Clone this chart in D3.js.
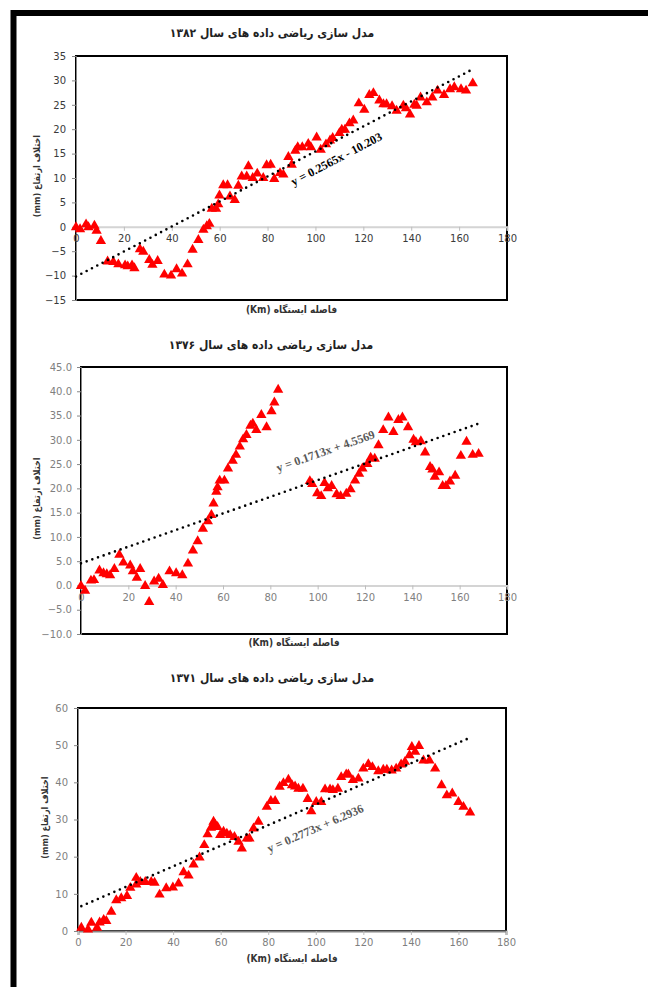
<!DOCTYPE html>
<html>
<head>
<meta charset="utf-8">
<script src="https://cdn.jsdelivr.net/npm/d3@7"></script>
<style>
  html, body { margin: 0; padding: 0; background: #fff; }
  svg { display: block; }
  .rtl { direction: rtl; unicode-bidi: embed; }
</style>
</head>
<body>
<div id="chart"></div>
<script>
// ---- data ----
const xTicks = [0, 20, 40, 60, 80, 100, 120, 140, 160, 180];

const km1382 = [0, 1.7, 4.2, 5.2, 7.7, 8.6, 10.4, 13.2, 15.6, 17.7, 20.5, 21.6, 23.4, 24.4, 26.7, 28.1, 30.6, 31.9, 34.1, 36.9,
  39.7, 42.0, 44.3, 46.6, 48.7, 51.1, 53.2, 54.6, 55.7, 56.7, 58.5, 59.4, 59.9, 61.5, 63.3, 64.3, 66.3, 67.8, 69.2, 71.3,
  72.0, 73.8, 75.7, 78.2, 79.6, 81.3, 82.8, 85.2, 86.6, 88.7, 90.1, 91.6, 92.6, 94.5, 97.0, 98.1, 100.5, 102.2, 104.4, 106.1,
  107.2, 110.0, 111.0, 112.3, 114.2, 115.8, 118.1, 120.4, 122.5, 124.2, 126.7, 128.4, 129.7, 132.0, 133.9, 136.7, 137.8, 139.5, 141.3, 142.3,
  143.9, 146.5, 148.8, 151.0, 153.7, 156.2, 158.0, 160.8, 162.9, 165.7];
const mm1382 = [-0.1, -0.5, 0.5, -0.1, 0.2, -0.8, -2.9, -7.1, -7.2, -7.7, -7.9, -8.1, -7.9, -8.5, -4.6, -5.1, -6.8, -7.8, -7.0, -9.8,
  -10.0, -8.7, -9.6, -7.7, -4.7, -2.7, -0.6, 0.1, 0.6, 3.7, 3.7, 4.6, 6.4, 8.5, 8.5, 6.2, 5.5, 8.4, 10.3, 10.3,
  12.4, 10.0, 10.9, 10.0, 12.6, 12.7, 9.8, 11.0, 10.7, 14.3, 12.7, 15.6, 16.3, 16.3, 17.0, 16.3, 18.3, 15.8, 16.9, 17.7,
  18.2, 19.2, 19.9, 19.9, 21.2, 21.8, 25.3, 24.0, 27.0, 27.4, 25.9, 25.1, 25.1, 24.7, 23.8, 24.8, 24.3, 23.0, 25.0, 24.8,
  26.5, 25.5, 26.5, 27.9, 27.0, 28.2, 28.6, 28.2, 27.9, 29.4];
const yTicks1382 = [-15, -10, -5, 0, 5, 10, 15, 20, 25, 30, 35];
const trend1382 = { slope: 0.2565, intercept: -10.203, label: 'y = 0.2565x - 10.203' };

const km1376 = [0, 1.7, 4.2, 5.5, 7.8, 9.5, 10.9, 12.3, 14.1, 16.2, 17.9, 20.8, 21.9, 23.6, 25.0, 27.1, 28.8, 30.9, 32.8, 34.6,
  37.4, 40.2, 42.8, 45.2, 47.3, 49.3, 51.5, 53.6, 55.1, 56.0, 57.2, 57.7, 58.6, 60.6, 62.1, 64.1, 65.5, 67.1, 68.5, 69.9,
  71.6, 72.6, 74.1, 76.2, 78.4, 80.5, 81.7, 83.3, 96.7, 97.7, 99.8, 101.5, 102.9, 104.3, 105.9, 108.0, 109.7, 112.1, 113.9, 115.8,
  117.5, 118.9, 121.0, 122.4, 124.1, 125.7, 127.7, 129.9, 132.0, 134.1, 135.8, 138.2, 140.5, 141.5, 143.6, 145.4, 147.5, 148.5, 149.5, 151.3,
  152.8, 154.2, 155.9, 158.1, 160.5, 162.9, 165.5, 168.0];
const mm1376 = [-0.1, -1.1, 1.0, 1.1, 3.1, 2.5, 2.3, 2.1, 3.4, 6.3, 4.7, 4.1, 2.9, 1.6, 3.4, -0.1, -3.4, 0.8, 1.4, 0.1,
  2.9, 2.5, 2.1, 4.5, 7.2, 9.1, 11.7, 13.2, 14.5, 16.9, 19.3, 20.2, 21.6, 21.6, 24.1, 25.7, 26.9, 28.6, 30.1, 31.0,
  32.9, 33.3, 32.0, 35.1, 32.6, 35.9, 37.7, 40.3, 21.5, 20.9, 19.0, 18.4, 21.1, 20.0, 20.5, 18.8, 18.4, 18.9, 19.8, 21.6,
  23.0, 24.1, 25.0, 26.3, 26.1, 28.9, 32.0, 34.6, 31.6, 34.1, 34.6, 32.6, 30.0, 29.5, 29.7, 27.4, 24.4, 23.9, 22.4, 23.3,
  20.5, 20.5, 21.4, 22.6, 26.7, 29.6, 26.9, 27.1];
const yTicks1376 = [-10, -5, 0, 5, 10, 15, 20, 25, 30, 35, 40, 45];
const trend1376 = { slope: 0.1713, intercept: 4.5569, label: 'y = 0.1713x + 4.5569' };

const km1371 = [1.4, 4.2, 5.6, 8.0, 9.1, 10.8, 11.9, 14.0, 16.1, 18.2, 20.6, 22.0, 24.5, 24.5, 26.2, 28.3, 30.8, 32.2, 34.3, 37.1,
  39.9, 42.3, 44.4, 46.5, 48.6, 51.1, 53.1, 54.5, 55.9, 57.0, 57.7, 58.7, 59.8, 61.2, 62.6, 64.0, 65.8, 67.5, 68.9, 71.0,
  72.1, 73.8, 75.9, 79.4, 81.1, 82.9, 84.8, 86.4, 88.5, 90.0, 91.3, 92.7, 94.6, 96.6, 98.1, 100.2, 102.3, 103.9, 106.0, 107.2,
  109.3, 110.7, 112.8, 113.7, 115.6, 117.9, 120.0, 122.1, 123.8, 126.3, 128.4, 129.9, 131.9, 133.8, 135.9, 137.5, 139.4, 140.4, 141.8, 143.4,
  145.3, 147.8, 150.2, 152.9, 155.1, 157.4, 160.0, 162.1, 164.9];
const mm1371 = [0.9, 0.4, 2.2, 0.9, 2.3, 3.0, 2.7, 5.2, 8.3, 8.8, 9.4, 11.6, 14.3, 12.5, 13.2, 13.2, 13.2, 13.0, 9.8, 11.5,
  11.7, 12.8, 15.8, 14.9, 17.9, 19.8, 23.1, 26.0, 27.8, 29.4, 28.6, 28.0, 25.8, 26.7, 26.2, 25.8, 25.3, 24.0, 22.2, 24.9,
  24.9, 27.6, 29.4, 33.4, 35.0, 35.0, 38.8, 39.8, 40.7, 39.2, 38.9, 38.3, 38.3, 35.5, 32.2, 34.7, 34.7, 38.1, 38.1, 37.9,
  38.3, 41.4, 42.1, 42.1, 40.6, 41.0, 43.7, 44.9, 44.1, 43.0, 43.4, 43.4, 43.2, 43.7, 44.8, 45.5, 47.3, 49.5, 48.2, 49.8,
  45.9, 45.9, 43.7, 39.2, 36.5, 37.0, 34.7, 33.4, 31.9];
const yTicks1371 = [0, 10, 20, 30, 40, 50, 60];
const trend1371 = { slope: 0.2773, intercept: 6.2936, label: 'y = 0.2773x + 6.2936' };

const xTitle = 'فاصله ایستگاه (Km)';
const yTitle = 'اختلاف ارتفاع (mm)';

// ---- drawing ----
const W = 648, H = 987;
const svg = d3.select('#chart').append('svg')
  .attr('width', W)
  .attr('height', H);

svg.append('rect').attr('width', W).attr('height', H).attr('fill', '#fff');

// outer black frame (top + left)
svg.append('path')
  .attr('d', `M13.5,${H} L13.5,13 L${W},13`)
  .attr('fill', 'none')
  .attr('stroke', '#000')
  .attr('stroke-width', 6);

const panels = [
  {
    title: 'مدل سازی ریاضی داده های سال ۱۳۸۲', km: km1382, mm: mm1382, yTicks: yTicks1382, trend: trend1382,
    box: { left: 76, right: 507, top: 56, bottom: 300 }, fmt: d3.format('d'),
    titleY: 33, titleX: 272, xTitleY: 310, yTitleX: 37, tickColor: '#3a3a3a', eqColor: '#000',
    eqAt: 109, eqDy: 20, yLabelEnd: 66
  },
  {
    title: 'مدل سازی ریاضی داده های سال ۱۳۷۶', km: km1376, mm: mm1376, yTicks: yTicks1376, trend: trend1376,
    box: { left: 81, right: 507, top: 367, bottom: 634 }, fmt: d3.format('.1f'),
    titleY: 345, titleX: 271, xTitleY: 643, yTitleX: 37, tickColor: '#7f7f7f', eqColor: '#595959',
    eqAt: 103.5, eqDy: -25, yLabelEnd: 72
  },
  {
    title: 'مدل سازی ریاضی داده های سال ۱۳۷۱', km: km1371, mm: mm1371, yTicks: yTicks1371, trend: trend1371,
    box: { left: 78, right: 506, top: 708, bottom: 931 }, fmt: d3.format('d'),
    titleY: 678, titleX: 272, xTitleY: 959, yTitleX: 45, tickColor: '#7f7f7f', eqColor: '#595959',
    eqAt: 100, eqDy: 25, yLabelEnd: 68
  }
];

panels.forEach(p => {
  const b = p.box;
  const x = d3.scaleLinear().domain([0, 180]).range([b.left, b.right]);
  const y = d3.scaleLinear().domain(d3.extent(p.yTicks)).range([b.bottom, b.top]);
  const g = svg.append('g');

  // chart title
  g.append('text')
    .attr('class', 'rtl')
    .attr('x', p.titleX)
    .attr('y', p.titleY)
    .attr('text-anchor', 'middle')
    .attr('dominant-baseline', 'middle')
    .attr('font-family', 'DejaVu Sans Condensed, DejaVu Sans')
    .attr('font-weight', 'bold')
    .attr('font-size', '12px')
    .attr('fill', '#222')
    .text(p.title);

  // plot frame
  g.append('rect')
    .attr('x', b.left)
    .attr('y', b.top)
    .attr('width', b.right - b.left)
    .attr('height', b.bottom - b.top)
    .attr('fill', '#fff')
    .attr('stroke', '#000')
    .attr('stroke-width', 2);

  // y axis
  const yAxis = g.append('g')
    .attr('transform', `translate(${b.left},0)`)
    .call(d3.axisLeft(y).tickValues(p.yTicks).tickFormat(p.fmt).tickSize(4).tickPadding(b.left - p.yLabelEnd - 4));
  yAxis.select('.domain').attr('stroke', '#868686');
  yAxis.selectAll('.tick line').attr('stroke', '#868686');
  yAxis.selectAll('.tick text')
    .attr('font-family', 'DejaVu Sans')
    .attr('font-size', '10px')
    .attr('fill', p.tickColor);

  // x axis at zero
  const xAxis = g.append('g')
    .attr('transform', `translate(0,${y(0)})`)
    .call(d3.axisBottom(x).tickValues(xTicks).tickSize(4).tickPadding(4));
  xAxis.select('.domain').attr('stroke', y(0) === b.bottom ? '#868686' : '#d4d4d4').attr('stroke-width', 2);
  xAxis.selectAll('.tick line').attr('stroke', '#bdbdbd');
  xAxis.selectAll('.tick text')
    .attr('font-family', 'DejaVu Sans')
    .attr('font-size', '10px')
    .attr('fill', p.tickColor);

  // axis titles
  g.append('text')
    .attr('class', 'rtl')
    .attr('x', (b.left + b.right) / 2)
    .attr('y', p.xTitleY)
    .attr('text-anchor', 'middle')
    .attr('dominant-baseline', 'middle')
    .attr('font-family', 'DejaVu Sans Condensed, DejaVu Sans')
    .attr('font-weight', 'bold')
    .attr('font-size', '10px')
    .attr('fill', '#333')
    .text(xTitle);

  g.append('text')
    .attr('class', 'rtl')
    .attr('transform', `translate(${p.yTitleX},${(b.top + b.bottom) / 2 - 2}) rotate(-90)`)
    .attr('text-anchor', 'middle')
    .attr('dominant-baseline', 'middle')
    .attr('font-family', 'DejaVu Sans Condensed, DejaVu Sans')
    .attr('font-weight', 'bold')
    .attr('font-size', '9px')
    .attr('fill', '#333')
    .text(yTitle);

  // markers
  const pts = p.km.map((k, i) => ({ km: k, mm: p.mm[i] }));
  g.selectAll('.pt')
    .data(pts)
    .enter()
    .append('path')
    .attr('class', 'pt')
    .attr('d', d3.symbol().type(d3.symbolTriangle).size(46))
    .attr('transform', d => `translate(${x(d.km)},${y(d.mm)})`)
    .attr('fill', '#ff0000');

  // linear trendline (dotted)
  const t = p.trend;
  const ext = d3.extent(p.km);
  const line = d3.line().x(d => x(d)).y(d => y(t.slope * d + t.intercept));
  g.append('path')
    .attr('d', line(ext))
    .attr('fill', 'none')
    .attr('stroke', '#000')
    .attr('stroke-width', 2.6)
    .attr('stroke-linecap', 'round')
    .attr('stroke-dasharray', '0,6');

  // equation label
  const ang = Math.atan2(y(t.slope * ext[1] + t.intercept) - y(t.slope * ext[0] + t.intercept), x(ext[1]) - x(ext[0])) * 180 / Math.PI;
  g.append('text')
    .attr('transform', `translate(${x(p.eqAt)},${y(t.slope * p.eqAt + t.intercept) + p.eqDy}) rotate(${ang})`)
    .attr('text-anchor', 'middle')
    .attr('dominant-baseline', 'middle')
    .attr('font-family', 'Liberation Serif')
    .attr('font-weight', 'bold')
    .attr('font-size', '12px')
    .attr('fill', p.eqColor)
    .text(t.label);
});
</script>
</body>
</html>
